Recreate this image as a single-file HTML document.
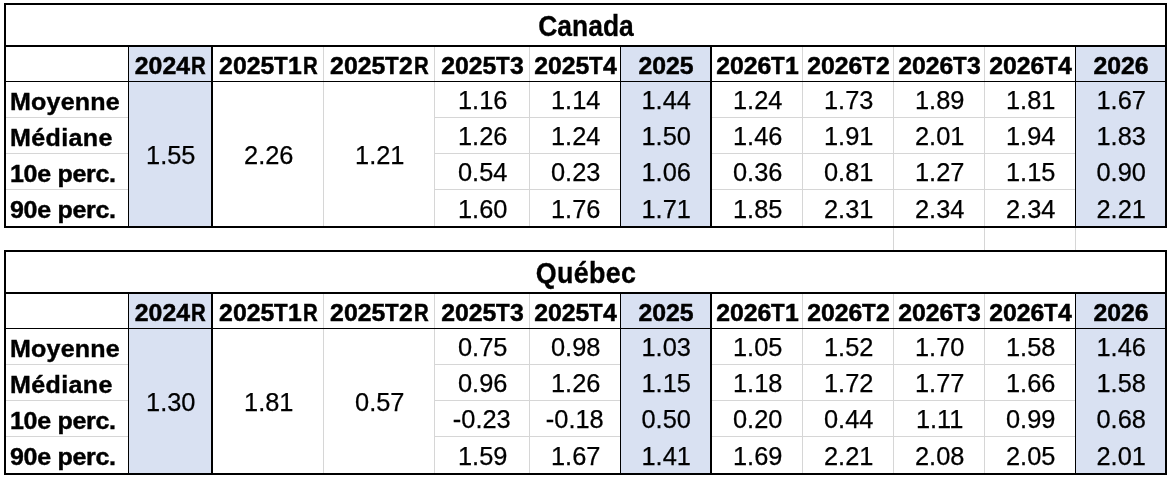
<!DOCTYPE html>
<html><head><meta charset="utf-8"><title>Table</title><style>
html,body{margin:0;padding:0;background:#fff;}
body{width:1170px;height:477px;position:relative;overflow:hidden;font-family:"Liberation Sans",sans-serif;color:#000;}
#w{position:absolute;left:0;top:0;width:1170px;height:477px;overflow:hidden;background:#fff;will-change:transform;}
.b{position:absolute;}
.t{position:absolute;white-space:nowrap;line-height:40px;height:40px;}
.c{text-align:center;}
.ti{font-weight:bold;font-size:28.6px;letter-spacing:-0.15px;-webkit-text-stroke:0.3px #000;}
.h{font-weight:bold;font-size:24.8px;letter-spacing:0.0px;-webkit-text-stroke:0.5px #000;}
.l{transform:scaleX(1.035);transform-origin:0 50%;font-weight:bold;font-size:24.2px;letter-spacing:0.3px;-webkit-text-stroke:0.4px #000;}
.kT,.kR{display:inline-block;transform-origin:0 50%;}
.kT{margin-left:0px;transform:scaleX(0.9);margin-right:-1.52px;}
.kR{margin-left:1.5px;transform:scaleX(0.82);margin-right:-3.22px;}
.n{font-size:25.4px;letter-spacing:0px;-webkit-text-stroke:0.25px #000;}
</style></head>
<body>
<div id="w">
<div class="b" style="left:129px;top:47px;width:82px;height:179px;background:#D9E1F2"></div>
<div class="b" style="left:621px;top:47px;width:89px;height:179px;background:#D9E1F2"></div>
<div class="b" style="left:1076px;top:47px;width:89px;height:179px;background:#D9E1F2"></div>
<div class="b" style="left:323px;top:47px;width:1px;height:179px;background:#D6D6D6"></div>
<div class="b" style="left:434px;top:47px;width:1px;height:179px;background:#D6D6D6"></div>
<div class="b" style="left:529px;top:47px;width:1px;height:179px;background:#D6D6D6"></div>
<div class="b" style="left:802px;top:47px;width:1px;height:179px;background:#D6D6D6"></div>
<div class="b" style="left:893px;top:47px;width:1px;height:179px;background:#D6D6D6"></div>
<div class="b" style="left:984px;top:47px;width:1px;height:179px;background:#D6D6D6"></div>
<div class="b" style="left:6px;top:117px;width:122px;height:1px;background:#D6D6D6"></div>
<div class="b" style="left:435px;top:117px;width:185px;height:1px;background:#D6D6D6"></div>
<div class="b" style="left:712px;top:117px;width:363px;height:1px;background:#D6D6D6"></div>
<div class="b" style="left:6px;top:153px;width:122px;height:1px;background:#D6D6D6"></div>
<div class="b" style="left:435px;top:153px;width:185px;height:1px;background:#D6D6D6"></div>
<div class="b" style="left:712px;top:153px;width:363px;height:1px;background:#D6D6D6"></div>
<div class="b" style="left:6px;top:189px;width:122px;height:1px;background:#D6D6D6"></div>
<div class="b" style="left:435px;top:189px;width:185px;height:1px;background:#D6D6D6"></div>
<div class="b" style="left:712px;top:189px;width:363px;height:1px;background:#D6D6D6"></div>
<div class="b" style="left:4px;top:3px;width:1163px;height:2px;background:#000"></div>
<div class="b" style="left:4px;top:226px;width:1163px;height:2px;background:#000"></div>
<div class="b" style="left:4px;top:3px;width:2px;height:225px;background:#000"></div>
<div class="b" style="left:1165px;top:3px;width:2px;height:225px;background:#000"></div>
<div class="b" style="left:4px;top:45px;width:1163px;height:2px;background:#000"></div>
<div class="b" style="left:6px;top:81px;width:1159px;height:1px;background:#000"></div>
<div class="b" style="left:128px;top:47px;width:1px;height:179px;background:#000"></div>
<div class="b" style="left:211px;top:47px;width:2px;height:179px;background:#000"></div>
<div class="b" style="left:620px;top:47px;width:1px;height:179px;background:#000"></div>
<div class="b" style="left:710px;top:47px;width:2px;height:179px;background:#000"></div>
<div class="b" style="left:1075px;top:47px;width:1px;height:179px;background:#000"></div>
<div class="t ti c" style="left:6px;width:1159px;top:6.09px;letter-spacing:0px;transform:translateX(0.5px) scaleX(0.925);">Canada</div>
<div class="t h c" style="left:109.5px;width:122px;top:45.91px;">2024<span class="kR">R</span></div>
<div class="t h c" style="left:193.5px;width:150px;top:45.91px;">2025<span class="kT">T</span>1<span class="kR">R</span></div>
<div class="t h c" style="left:304.5px;width:150px;top:45.91px;">2025<span class="kT">T</span>2<span class="kR">R</span></div>
<div class="t h c" style="left:415.5px;width:134px;top:45.91px;">2025<span class="kT">T</span>3</div>
<div class="t h c" style="left:510.5px;width:130px;top:45.91px;">2025<span class="kT">T</span>4</div>
<div class="t h c" style="left:601.5px;width:129px;top:45.91px;">2025</div>
<div class="t h c" style="left:692.5px;width:130px;top:45.91px;">2026<span class="kT">T</span>1</div>
<div class="t h c" style="left:783.5px;width:130px;top:45.91px;">2026<span class="kT">T</span>2</div>
<div class="t h c" style="left:874.5px;width:130px;top:45.91px;">2026<span class="kT">T</span>3</div>
<div class="t h c" style="left:965.5px;width:130px;top:45.91px;">2026<span class="kT">T</span>4</div>
<div class="t h c" style="left:1056.5px;width:129px;top:45.91px;">2026</div>
<div class="t l" style="left:10px;top:81.91px;letter-spacing:0.2px;">Moyenne</div>
<div class="t l" style="left:10px;top:117.91px;letter-spacing:0.35px;">Médiane</div>
<div class="t l" style="left:10px;top:153.91px;letter-spacing:-0.3px;">10e perc.</div>
<div class="t l" style="left:10px;top:189.91px;letter-spacing:-0.3px;">90e perc.</div>
<div class="t n c" style="left:129.8px;width:82px;top:135.20px;">1.55</div>
<div class="t n c" style="left:213.8px;width:110px;top:135.20px;">2.26</div>
<div class="t n c" style="left:324.8px;width:110px;top:135.20px;">1.21</div>
<div class="t n c" style="left:435.7px;width:94px;top:80.20px;">1.16</div>
<div class="t n c" style="left:530.7px;width:90px;top:80.20px;">1.14</div>
<div class="t n c" style="left:621.7px;width:89px;top:80.20px;">1.44</div>
<div class="t n c" style="left:712.7px;width:90px;top:80.20px;">1.24</div>
<div class="t n c" style="left:803.7px;width:90px;top:80.20px;">1.73</div>
<div class="t n c" style="left:894.7px;width:90px;top:80.20px;">1.89</div>
<div class="t n c" style="left:985.7px;width:90px;top:80.20px;">1.81</div>
<div class="t n c" style="left:1076.7px;width:89px;top:80.20px;">1.67</div>
<div class="t n c" style="left:435.7px;width:94px;top:116.20px;">1.26</div>
<div class="t n c" style="left:530.7px;width:90px;top:116.20px;">1.24</div>
<div class="t n c" style="left:621.7px;width:89px;top:116.20px;">1.50</div>
<div class="t n c" style="left:712.7px;width:90px;top:116.20px;">1.46</div>
<div class="t n c" style="left:803.7px;width:90px;top:116.20px;">1.91</div>
<div class="t n c" style="left:894.7px;width:90px;top:116.20px;">2.01</div>
<div class="t n c" style="left:985.7px;width:90px;top:116.20px;">1.94</div>
<div class="t n c" style="left:1076.7px;width:89px;top:116.20px;">1.83</div>
<div class="t n c" style="left:435.7px;width:94px;top:152.20px;">0.54</div>
<div class="t n c" style="left:530.7px;width:90px;top:152.20px;">0.23</div>
<div class="t n c" style="left:621.7px;width:89px;top:152.20px;">1.06</div>
<div class="t n c" style="left:712.7px;width:90px;top:152.20px;">0.36</div>
<div class="t n c" style="left:803.7px;width:90px;top:152.20px;">0.81</div>
<div class="t n c" style="left:894.7px;width:90px;top:152.20px;">1.27</div>
<div class="t n c" style="left:985.7px;width:90px;top:152.20px;">1.15</div>
<div class="t n c" style="left:1076.7px;width:89px;top:152.20px;">0.90</div>
<div class="t n c" style="left:435.7px;width:94px;top:189.20px;">1.60</div>
<div class="t n c" style="left:530.7px;width:90px;top:189.20px;">1.76</div>
<div class="t n c" style="left:621.7px;width:89px;top:189.20px;">1.71</div>
<div class="t n c" style="left:712.7px;width:90px;top:189.20px;">1.85</div>
<div class="t n c" style="left:803.7px;width:90px;top:189.20px;">2.31</div>
<div class="t n c" style="left:894.7px;width:90px;top:189.20px;">2.34</div>
<div class="t n c" style="left:985.7px;width:90px;top:189.20px;">2.34</div>
<div class="t n c" style="left:1076.7px;width:89px;top:189.20px;">2.21</div>
<div class="b" style="left:129px;top:294px;width:82px;height:179px;background:#D9E1F2"></div>
<div class="b" style="left:621px;top:294px;width:89px;height:179px;background:#D9E1F2"></div>
<div class="b" style="left:1076px;top:294px;width:89px;height:179px;background:#D9E1F2"></div>
<div class="b" style="left:323px;top:294px;width:1px;height:179px;background:#D6D6D6"></div>
<div class="b" style="left:434px;top:294px;width:1px;height:179px;background:#D6D6D6"></div>
<div class="b" style="left:529px;top:294px;width:1px;height:179px;background:#D6D6D6"></div>
<div class="b" style="left:802px;top:294px;width:1px;height:179px;background:#D6D6D6"></div>
<div class="b" style="left:893px;top:294px;width:1px;height:179px;background:#D6D6D6"></div>
<div class="b" style="left:984px;top:294px;width:1px;height:179px;background:#D6D6D6"></div>
<div class="b" style="left:6px;top:364px;width:122px;height:1px;background:#D6D6D6"></div>
<div class="b" style="left:435px;top:364px;width:185px;height:1px;background:#D6D6D6"></div>
<div class="b" style="left:712px;top:364px;width:363px;height:1px;background:#D6D6D6"></div>
<div class="b" style="left:6px;top:400px;width:122px;height:1px;background:#D6D6D6"></div>
<div class="b" style="left:435px;top:400px;width:185px;height:1px;background:#D6D6D6"></div>
<div class="b" style="left:712px;top:400px;width:363px;height:1px;background:#D6D6D6"></div>
<div class="b" style="left:6px;top:436px;width:122px;height:1px;background:#D6D6D6"></div>
<div class="b" style="left:435px;top:436px;width:185px;height:1px;background:#D6D6D6"></div>
<div class="b" style="left:712px;top:436px;width:363px;height:1px;background:#D6D6D6"></div>
<div class="b" style="left:4px;top:250px;width:1163px;height:2px;background:#000"></div>
<div class="b" style="left:4px;top:473px;width:1163px;height:2px;background:#000"></div>
<div class="b" style="left:4px;top:250px;width:2px;height:225px;background:#000"></div>
<div class="b" style="left:1165px;top:250px;width:2px;height:225px;background:#000"></div>
<div class="b" style="left:4px;top:292px;width:1163px;height:2px;background:#000"></div>
<div class="b" style="left:6px;top:328px;width:1159px;height:1px;background:#000"></div>
<div class="b" style="left:128px;top:294px;width:1px;height:179px;background:#000"></div>
<div class="b" style="left:211px;top:294px;width:2px;height:179px;background:#000"></div>
<div class="b" style="left:620px;top:294px;width:1px;height:179px;background:#000"></div>
<div class="b" style="left:710px;top:294px;width:2px;height:179px;background:#000"></div>
<div class="b" style="left:1075px;top:294px;width:1px;height:179px;background:#000"></div>
<div class="t ti c" style="left:6px;width:1159px;top:253.09px;letter-spacing:0.3px;transform:translateX(0.5px) scaleX(0.94);">Québec</div>
<div class="t h c" style="left:109.5px;width:122px;top:292.91px;">2024<span class="kR">R</span></div>
<div class="t h c" style="left:193.5px;width:150px;top:292.91px;">2025<span class="kT">T</span>1<span class="kR">R</span></div>
<div class="t h c" style="left:304.5px;width:150px;top:292.91px;">2025<span class="kT">T</span>2<span class="kR">R</span></div>
<div class="t h c" style="left:415.5px;width:134px;top:292.91px;">2025<span class="kT">T</span>3</div>
<div class="t h c" style="left:510.5px;width:130px;top:292.91px;">2025<span class="kT">T</span>4</div>
<div class="t h c" style="left:601.5px;width:129px;top:292.91px;">2025</div>
<div class="t h c" style="left:692.5px;width:130px;top:292.91px;">2026<span class="kT">T</span>1</div>
<div class="t h c" style="left:783.5px;width:130px;top:292.91px;">2026<span class="kT">T</span>2</div>
<div class="t h c" style="left:874.5px;width:130px;top:292.91px;">2026<span class="kT">T</span>3</div>
<div class="t h c" style="left:965.5px;width:130px;top:292.91px;">2026<span class="kT">T</span>4</div>
<div class="t h c" style="left:1056.5px;width:129px;top:292.91px;">2026</div>
<div class="t l" style="left:10px;top:328.91px;letter-spacing:0.2px;">Moyenne</div>
<div class="t l" style="left:10px;top:364.91px;letter-spacing:0.35px;">Médiane</div>
<div class="t l" style="left:10px;top:400.91px;letter-spacing:-0.3px;">10e perc.</div>
<div class="t l" style="left:10px;top:436.91px;letter-spacing:-0.3px;">90e perc.</div>
<div class="t n c" style="left:129.8px;width:82px;top:382.20px;">1.30</div>
<div class="t n c" style="left:213.8px;width:110px;top:382.20px;">1.81</div>
<div class="t n c" style="left:324.8px;width:110px;top:382.20px;">0.57</div>
<div class="t n c" style="left:435.7px;width:94px;top:327.20px;">0.75</div>
<div class="t n c" style="left:530.7px;width:90px;top:327.20px;">0.98</div>
<div class="t n c" style="left:621.7px;width:89px;top:327.20px;">1.03</div>
<div class="t n c" style="left:712.7px;width:90px;top:327.20px;">1.05</div>
<div class="t n c" style="left:803.7px;width:90px;top:327.20px;">1.52</div>
<div class="t n c" style="left:894.7px;width:90px;top:327.20px;">1.70</div>
<div class="t n c" style="left:985.7px;width:90px;top:327.20px;">1.58</div>
<div class="t n c" style="left:1076.7px;width:89px;top:327.20px;">1.46</div>
<div class="t n c" style="left:435.7px;width:94px;top:363.20px;">0.96</div>
<div class="t n c" style="left:530.7px;width:90px;top:363.20px;">1.26</div>
<div class="t n c" style="left:621.7px;width:89px;top:363.20px;">1.15</div>
<div class="t n c" style="left:712.7px;width:90px;top:363.20px;">1.18</div>
<div class="t n c" style="left:803.7px;width:90px;top:363.20px;">1.72</div>
<div class="t n c" style="left:894.7px;width:90px;top:363.20px;">1.77</div>
<div class="t n c" style="left:985.7px;width:90px;top:363.20px;">1.66</div>
<div class="t n c" style="left:1076.7px;width:89px;top:363.20px;">1.58</div>
<div class="t n c" style="left:434.8px;width:94px;top:399.20px;">-0.23</div>
<div class="t n c" style="left:529.8px;width:90px;top:399.20px;">-0.18</div>
<div class="t n c" style="left:621.7px;width:89px;top:399.20px;">0.50</div>
<div class="t n c" style="left:712.7px;width:90px;top:399.20px;">0.20</div>
<div class="t n c" style="left:803.7px;width:90px;top:399.20px;">0.44</div>
<div class="t n c" style="left:894.7px;width:90px;top:399.20px;">1.11</div>
<div class="t n c" style="left:985.7px;width:90px;top:399.20px;">0.99</div>
<div class="t n c" style="left:1076.7px;width:89px;top:399.20px;">0.68</div>
<div class="t n c" style="left:435.7px;width:94px;top:436.20px;">1.59</div>
<div class="t n c" style="left:530.7px;width:90px;top:436.20px;">1.67</div>
<div class="t n c" style="left:621.7px;width:89px;top:436.20px;">1.41</div>
<div class="t n c" style="left:712.7px;width:90px;top:436.20px;">1.69</div>
<div class="t n c" style="left:803.7px;width:90px;top:436.20px;">2.21</div>
<div class="t n c" style="left:894.7px;width:90px;top:436.20px;">2.08</div>
<div class="t n c" style="left:985.7px;width:90px;top:436.20px;">2.05</div>
<div class="t n c" style="left:1076.7px;width:89px;top:436.20px;">2.01</div>
<div class="b" style="left:893px;top:228px;width:1px;height:22px;background:#D6D6D6"></div>
<div class="b" style="left:984px;top:228px;width:1px;height:22px;background:#D6D6D6"></div>
<div class="b" style="left:1075px;top:228px;width:1px;height:22px;background:#D6D6D6"></div>
</div>
</body></html>
